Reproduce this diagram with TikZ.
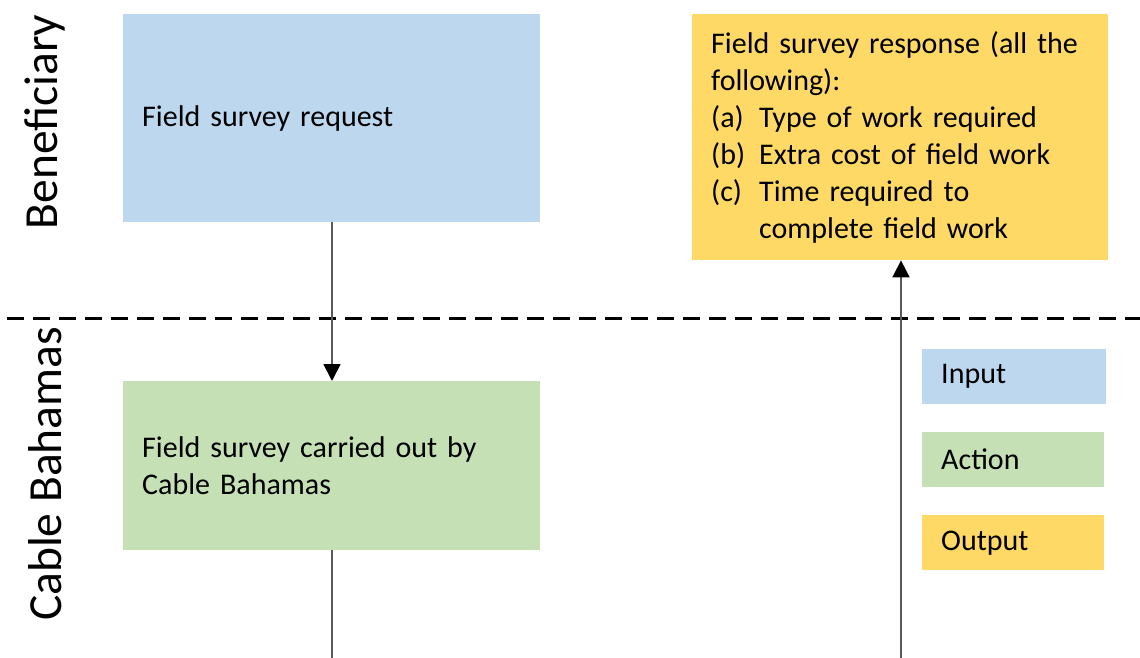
\documentclass[tikz,border=0pt]{standalone}
\usepackage{fontspec}
\setmainfont{Carlito}
\usetikzlibrary{arrows.meta}
\definecolor{inblue}{HTML}{BDD7EE}
\definecolor{actgreen}{HTML}{C5E0B4}
\definecolor{outyellow}{HTML}{FFD966}
\definecolor{linegray}{HTML}{595959}
\tikzset{
  box/.style={draw=none, inner xsep=19pt, inner ysep=0pt, align=left, anchor=north west,
    font=\fontsize{30}{37}\selectfont},
  lane/.style={rotate=90, font=\fontsize{47.5}{54}\selectfont},
  flow/.style={draw=linegray, line width=1.8pt, -{Triangle[width=17pt,length=17pt,color=black]}},
  plain/.style={draw=linegray, line width=1.8pt},
  lanesep/.style={draw=black, line width=3pt, dash pattern=on 17pt off 9pt}
}
\begin{document}
\begin{tikzpicture}[x=1pt,y=-1pt]
\useasboundingbox (0,0) rectangle (1140,658);
\fill[white] (0,0) rectangle (1140,658);
% lane labels
\node[lane] (lb) at (45,122) {Beneficiary};
\node[lane] (lc) at (45,474) {Cable Bahamas};
% separator
\coordinate (sl) at (7,318);
\coordinate (sr) at (1140,318);
\draw[lanesep] (sl) -- (sr);
% boxes
\node[box, fill=inblue, minimum width=417pt, minimum height=208pt, text width=379pt] (req) at (123,14) {Field survey request};
\node[box, fill=actgreen, minimum width=417pt, minimum height=169pt, text width=379pt] (act) at (123,381) {Field survey carried out by\\Cable Bahamas};
\node[box, fill=outyellow, minimum width=416pt, minimum height=246pt, text width=378pt] (out) at (692,14) {Field survey response (all the\\following):\\\makebox[48pt][l]{(a)}Type of work required\\\makebox[48pt][l]{(b)}Extra cost of field work\\\makebox[48pt][l]{(c)}Time required to\\\hspace*{48pt}complete field work};
% legend
\node[box, fill=inblue, minimum width=184pt, minimum height=55pt, text width=146pt] (lin) at (922,349) {Input};
\node[box, fill=actgreen, minimum width=182pt, minimum height=55pt, text width=144pt] (lac) at (922,432) {Action};
\node[box, fill=outyellow, minimum width=182pt, minimum height=55pt, text width=144pt] (lou) at (922,515) {Output};
% connectors
\coordinate (b1) at (332,658);
\coordinate (b2) at (901,658);
\draw[flow] (req.south -| b1) -- (act.north -| b1);
\draw[plain] (act.south -| b1) -- (b1);
\draw[flow] (b2) -- (out.south -| b2);
\end{tikzpicture}
\end{document}
